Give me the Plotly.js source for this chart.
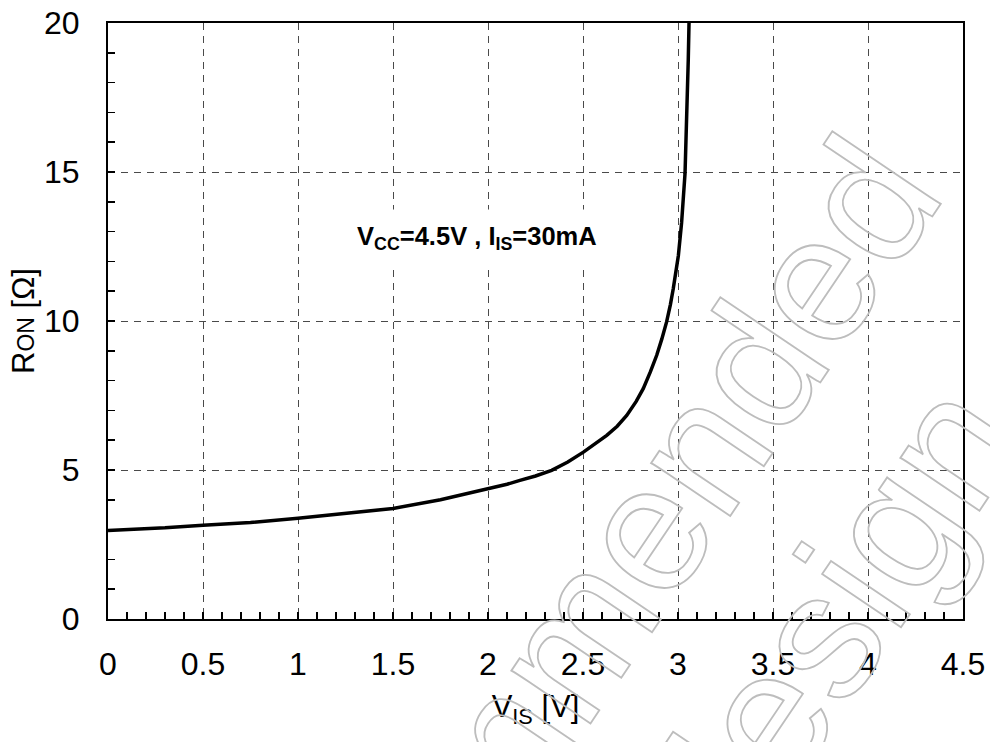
<!DOCTYPE html>
<html><head><meta charset="utf-8">
<script src="https://cdn.plot.ly/plotly-3.0.1.min.js"></script>
<style>html,body{margin:0;padding:0;background:#fff}</style>
</head><body>
<div id="chart" style="width:990px;height:742px"></div>
<script>
// V_IS [V] and R_ON [Ohm]
const vis = [0, 0.3, 0.5, 0.75, 1.0, 1.25, 1.5, 1.75, 2.0, 2.1, 2.168, 2.25, 2.335, 2.42, 2.502, 2.56, 2.625, 2.68, 2.73, 2.78, 2.817, 2.855, 2.888, 2.915, 2.94, 2.96, 2.975, 3.002, 3.019, 3.037, 3.045, 3.054, 3.058];
const ron = [2.97, 3.06, 3.15, 3.24, 3.38, 3.55, 3.71, 4.0, 4.37, 4.52, 4.65, 4.8, 4.99, 5.27, 5.6, 5.86, 6.16, 6.47, 6.83, 7.3, 7.73, 8.3, 8.85, 9.4, 9.97, 10.55, 11.08, 12.2, 13.3, 14.95, 16.52, 18.76, 20.0];
const xTicks = [0, 0.5, 1, 1.5, 2, 2.5, 3, 3.5, 4, 4.5];
const xTickText = ['0', '0.5', '1', '1.5', '2', '2.5', '3', '3.5', '4', '4.5'];
const yTicks = [0, 5, 10, 15, 20];
const yTickText = ['0', '5', '10', '15', '20'];
const conditionText = '<b>V<sub>CC</sub>=4.5V , I<sub>IS</sub>=30mA</b>';
const watermarkLines = ['Not recommended', 'for new design'];

const FONT = 'Arial, Liberation Sans, Helvetica, sans-serif';

const axisCommon = {
  showline: true, linecolor: '#000', linewidth: 2, mirror: true,
  ticks: 'inside', ticklen: 7, tickwidth: 1.5, tickcolor: '#000',
  showgrid: true, gridcolor: '#4a4a4a', gridwidth: 1, griddash: '7px,6px',
  zeroline: false,
  tickfont: {family: FONT, size: 32, color: '#000'}
};

const layout = {
  width: 990, height: 742,
  margin: {l: 108, r: 27, t: 23, b: 123},
  paper_bgcolor: '#fff', plot_bgcolor: '#fff',
  showlegend: false,
  xaxis: Object.assign({}, axisCommon, {
    range: [0, 4.5], tickmode: 'array', tickvals: xTicks, ticktext: xTickText,
    ticklabelstandoff: 16,
    minor: {dtick: 0.1, ticks: 'inside', ticklen: 7, tickwidth: 1.5, tickcolor: '#000', showgrid: false},
    title: {text: 'V<sub>IS</sub> [V]', font: {family: FONT, size: 31, color: '#000'}, standoff: 14}
  }),
  yaxis: Object.assign({}, axisCommon, {
    range: [0, 20], tickmode: 'array', tickvals: yTicks, ticktext: yTickText,
    ticklabelstandoff: 20,
    minor: {dtick: 1, ticks: 'inside', ticklen: 7, tickwidth: 1.5, tickcolor: '#000', showgrid: false},
    title: {text: "R<span style='font-size:23px'>ON</span> [Ω]", font: {family: FONT, size: 31, color: '#000'}, standoff: 0}
  }),
  annotations: [
    {xref: 'paper', yref: 'paper', x: 0.4363, y: -0.259, text: watermarkLines[0], showarrow: false,
     textangle: -56, xanchor: 'center', yanchor: 'middle',
     font: {family: FONT, size: 180, color: 'rgba(0,0,0,0)'}},
    {xref: 'paper', yref: 'paper', x: 0.633, y: -0.452, text: watermarkLines[1], showarrow: false,
     textangle: -56, xanchor: 'center', yanchor: 'middle',
     font: {family: FONT, size: 180, color: 'rgba(0,0,0,0)'}},
    {xref: 'x', yref: 'y', x: 1.94, y: 12.8, text: conditionText, showarrow: false,
     xanchor: 'center', yanchor: 'middle', bgcolor: '#fff', borderpad: 12,
     font: {family: FONT, size: 25.5, color: '#000'}}
  ]
};

const traces = [{
  x: vis, y: ron, type: 'scatter', mode: 'lines',
  line: {color: '#000', width: 3.5},
  hoverinfo: 'skip'
}];

Plotly.newPlot('chart', traces, layout, {staticPlot: true}).then(function () {
  [0, 1].forEach(function (i) {
    const t = document.querySelector('.annotation[data-index="' + i + '"] text');
    if (t) {
      t.style.fill = 'none';
      t.style.stroke = '#bdbdbd';
      t.style.strokeWidth = '1.8px';
    }
  });
});
</script>
</body></html>
